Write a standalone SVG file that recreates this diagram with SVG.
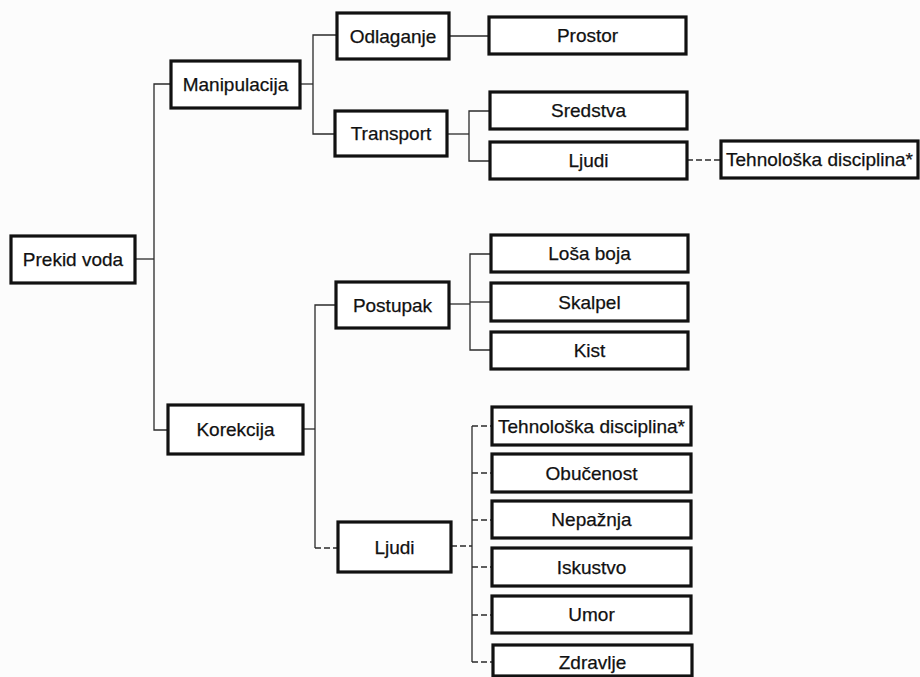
<svg xmlns="http://www.w3.org/2000/svg" width="920" height="677" viewBox="0 0 920 677">
<style>
.box rect{fill:#fff;stroke:#111;stroke-width:3.2}
.box text{font-family:"Liberation Sans",Arial,sans-serif;font-size:19px;fill:#111;stroke:#111;stroke-width:0.25;text-anchor:middle;dominant-baseline:central}
.c line,.c path{stroke:#2a2a2a;stroke-width:1.3;fill:none}
.c .d{stroke-dasharray:6,3}
</style>
<rect width="920" height="677" fill="#fcfcfc"/>
<g class="c" id="connectors">
<line x1="135" y1="259" x2="154" y2="259"/>
<path d="M171,84 H154 V430 H168"/>
<line x1="300" y1="84" x2="313" y2="84"/>
<path d="M337,35 H313 V134 H335"/>
<line x1="449" y1="36" x2="489" y2="36"/>
<line x1="447" y1="134" x2="469" y2="134"/>
<path d="M490,111 H469 V161 H490"/>
<line class="d" x1="687" y1="160" x2="721" y2="160"/>
<line x1="303" y1="429" x2="315" y2="429"/>
<path d="M336,305 H315 V548"/>
<line class="d" x1="315" y1="548" x2="338" y2="548"/>
<line x1="449" y1="304" x2="470" y2="304"/>
<path d="M491,254 H470 V350 H491"/>
<line x1="470" y1="302" x2="491" y2="302"/>
<line class="d" x1="451" y1="546" x2="472" y2="546"/>
<line x1="472" y1="426" x2="472" y2="662"/>
<line class="d" x1="472" y1="426" x2="492" y2="426"/>
<line class="d" x1="472" y1="473" x2="492" y2="473"/>
<line class="d" x1="472" y1="520" x2="492" y2="520"/>
<line class="d" x1="472" y1="567" x2="492" y2="567"/>
<line class="d" x1="472" y1="615" x2="492" y2="615"/>
<line class="d" x1="472" y1="662" x2="493" y2="662"/>
</g>
<g class="box" id="prekid-voda"><rect x="11" y="236" width="124" height="47"/><text x="73" y="259.5">Prekid voda</text></g>
<g class="box" id="manipulacija"><rect x="171" y="61" width="129" height="47"/><text x="235.5" y="84.5">Manipulacija</text></g>
<g class="box" id="korekcija"><rect x="168" y="405" width="135" height="49"/><text x="235.5" y="429.5">Korekcija</text></g>
<g class="box" id="odlaganje"><rect x="337" y="13" width="112" height="46"/><text x="393" y="36">Odlaganje</text></g>
<g class="box" id="transport"><rect x="335" y="111" width="112" height="45"/><text x="391" y="133.5">Transport</text></g>
<g class="box" id="postupak"><rect x="336" y="282" width="113" height="46"/><text x="392.5" y="305">Postupak</text></g>
<g class="box" id="ljudi-k"><rect x="338" y="522" width="113" height="50"/><text x="394.5" y="547">Ljudi</text></g>
<g class="box" id="prostor"><rect x="489" y="17" width="197" height="37"/><text x="587.5" y="35.5">Prostor</text></g>
<g class="box" id="sredstva"><rect x="490" y="92" width="197" height="37"/><text x="588.5" y="110.5">Sredstva</text></g>
<g class="box" id="ljudi-t"><rect x="490" y="142" width="197" height="37"/><text x="588.5" y="160.5">Ljudi</text></g>
<g class="box" id="tehnoloska-t"><rect x="721" y="141" width="197" height="37"/><text x="819.5" y="159.5">Tehnološka disciplina*</text></g>
<g class="box" id="losa-boja"><rect x="491" y="235" width="197" height="37"/><text x="589.5" y="253.5">Loša boja</text></g>
<g class="box" id="skalpel"><rect x="491" y="283" width="197" height="38"/><text x="589.5" y="302">Skalpel</text></g>
<g class="box" id="kist"><rect x="491" y="332" width="197" height="37"/><text x="589.5" y="350.5">Kist</text></g>
<g class="box" id="tehnoloska-k"><rect x="492" y="407" width="199" height="38"/><text x="591.5" y="426">Tehnološka disciplina*</text></g>
<g class="box" id="obucenost"><rect x="492" y="454" width="199" height="38"/><text x="591.5" y="473">Obučenost</text></g>
<g class="box" id="nepaznja"><rect x="492" y="501" width="199" height="37"/><text x="591.5" y="519.5">Nepažnja</text></g>
<g class="box" id="iskustvo"><rect x="492" y="548" width="199" height="38"/><text x="591.5" y="567">Iskustvo</text></g>
<g class="box" id="umor"><rect x="492" y="596" width="199" height="37"/><text x="591.5" y="614.5">Umor</text></g>
<g class="box" id="zdravlje"><rect x="493" y="645" width="199" height="31"/><text x="592.5" y="662">Zdravlje</text></g>
</svg>
